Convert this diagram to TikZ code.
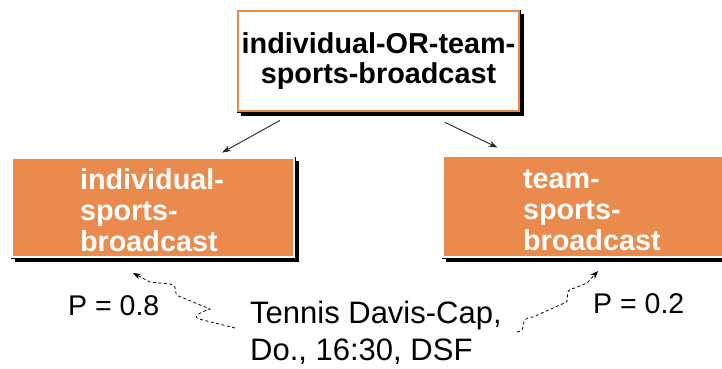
\documentclass[tikz,border=0pt]{standalone}
\usepackage{fontspec}
\setmainfont{Liberation Sans}
\usetikzlibrary{shadows,arrows.meta,calc}
\definecolor{boxorange}{RGB}{234,138,76}
\tikzset{
  boxshape/.style={rectangle, draw=black, line width=0.8pt, inner ysep=0pt,
    drop shadow={shadow xshift=3.5pt, shadow yshift=-3.5pt, fill=black, opacity=1}},
  topbox/.style={boxshape, fill=white, align=center, inner xsep=0pt,
    font=\fontsize{28.8}{30}\selectfont\bfseries,
    execute at begin node={\rule{0pt}{26pt}}},
  subbox/.style={boxshape, fill=boxorange, align=left, text=white,
    font=\fontsize{28.8}{31}\selectfont\bfseries,
    execute at begin node={\rule{0pt}{27pt}}},
  plain/.style={inner sep=0pt, font=\fontsize{31}{37}\selectfont},
  prob/.style={inner sep=0pt, font=\fontsize{28.5}{34}\selectfont},
  conn/.style={draw=black!85, line width=0.9pt, -{Stealth[length=9pt,width=6pt]}},
  wiggle/.style={draw=black, line width=0.8pt, dash pattern=on 3pt off 2.5pt,
    -{Stealth[length=8pt,width=6pt]}}
}
\begin{document}
\begin{tikzpicture}[x=1pt, y=-1pt]
\useasboundingbox (0,0) rectangle (722,368);
\clip (0,0) rectangle (722,368);

% boxes
\node[topbox, minimum width=283pt, minimum height=102pt] (top) at (378.5,61)
  {individual-OR-team-\\sports-broadcast};
\node[subbox, minimum height=101pt, text width=146pt, inner xsep=69pt] (left) at (153,207.5)
  {individual-\\sports-\\broadcast};
\node[subbox, minimum height=103pt, text width=158pt, inner xsep=81pt] (right) at (602,206.5)
  {team-\\sports-\\broadcast};

% inner border lines
\draw[boxorange, line width=2pt] ([shift={(1.6pt,-1.6pt)}]top.north west) rectangle ([shift={(-1.6pt,1.6pt)}]top.south east);
\draw[white, line width=1.6pt] ([shift={(1.5pt,-1.5pt)}]left.north west) rectangle ([shift={(-1.5pt,1.5pt)}]left.south east);
\draw[white, line width=1.6pt] ([shift={(1.5pt,-1.5pt)}]right.north west) rectangle ([shift={(-1.5pt,1.5pt)}]right.south east);

% hierarchy arrows
\draw[conn] ($(top.south)+(-98.5pt,-8pt)$) -- ($(left.north)+(69pt,4pt)$);
\draw[conn] ($(top.south)+(66.5pt,-10pt)$) -- ($(right.north west)+(56pt,7pt)$);

% example and probabilities (base anchor = last line)
\node[plain, anchor=base west, align=left] (ex) at (250,360)
  {Tennis Davis-Cap,\\Do., 16:30, DSF};
\node[prob, anchor=base west] (pl) at (68,315) {P = 0.8};
\node[prob, anchor=base west] (pr) at (593,313) {P = 0.2};

% dashed classification links
\coordinate (wl) at (235,328);
\coordinate (wr) at (517,332);
\draw[wiggle] (wl) -- (199,319) .. controls (191,316) and (204,311) .. (210,309)
  -- (181,297) .. controls (170,294) and (181,287) .. (170,284) -- (150,282) -- (133,273);
\draw[wiggle] (wr) .. controls (529,330) and (517,318) .. (533,317)
  -- (562,304) .. controls (574,302) and (560,290) .. (575,288) -- (587,283) -- (598,271);
\end{tikzpicture}
\end{document}
